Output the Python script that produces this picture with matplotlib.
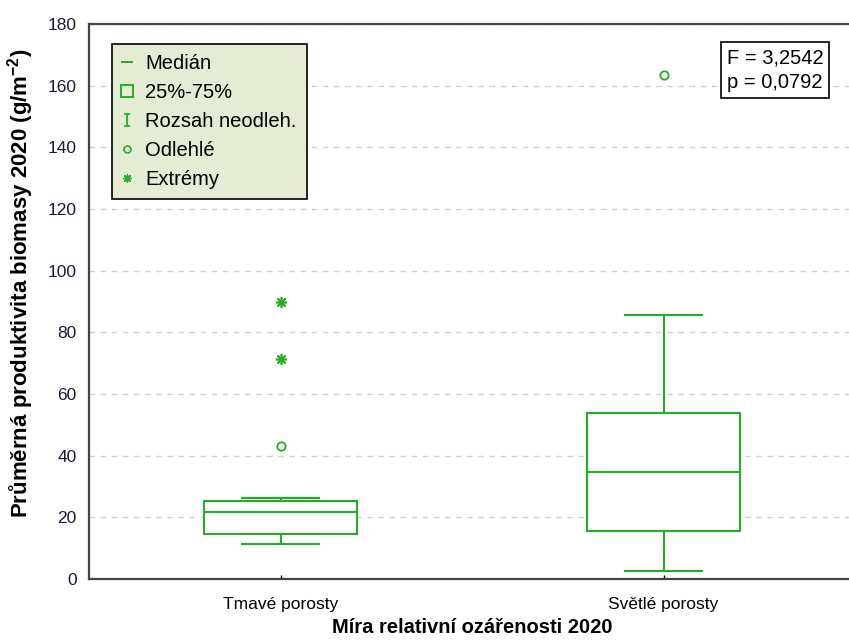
import matplotlib
matplotlib.use("Agg")
import matplotlib.pyplot as plt
from matplotlib.lines import Line2D
from matplotlib.path import Path

plt.rcParams['font.family'] = ['Liberation Sans', 'DejaVu Sans']
plt.rcParams['mathtext.fontset'] = 'custom'
plt.rcParams['mathtext.rm'] = 'Liberation Sans'
plt.rcParams['mathtext.bf'] = 'Liberation Sans:bold'

# data
categories = ["Tmavé porosty", "Světlé porosty"]
medians = [21.7, 34.7]
q1 = [14.6, 15.7]
q3 = [25.4, 53.8]
whis_lo = [11.4, 2.6]
whis_hi = [26.3, 85.6]
outliers = [[43.2], [163.6]]
extremes = [[71.3, 90.0], []]
f_value = "3,2542"
p_value = "0,0792"

green = "#22b022"
spine_c = "#444444"

fig = plt.figure(figsize=(8.49, 6.41), dpi=100)
ax = fig.add_axes([89 / 849, 62 / 641, 766 / 849, 555 / 641])

stats = []
for i, name in enumerate(categories):
    stats.append(dict(label=name, med=medians[i], q1=q1[i], q3=q3[i],
                      whislo=whis_lo[i], whishi=whis_hi[i], fliers=outliers[i]))

ax.bxp(stats, positions=[0, 1], widths=0.40, capwidths=0.20,
       patch_artist=True,
       boxprops=dict(facecolor="white", edgecolor=green, linewidth=1.5),
       medianprops=dict(color=green, linewidth=1.5),
       whiskerprops=dict(color=green, linewidth=1.5),
       capprops=dict(color=green, linewidth=1.5),
       flierprops=dict(marker="o", markersize=6, markerfacecolor="none",
                       markeredgecolor=green, markeredgewidth=1.3),
       zorder=3)

for i, ext in enumerate(extremes):
    if ext:
        ax.plot([i] * len(ext), ext, linestyle="none", marker=(8, 2, 0),
                markersize=8, color=green, markeredgewidth=1.2, zorder=4)

ax.set_xlim(-0.5, 1.5)
ax.set_ylim(0, 180)
ax.set_yticks(range(0, 181, 20))
ax.set_xticks([0, 1])
ax.set_xticklabels(categories)

ax.yaxis.grid(True, color="#d0d0d0", linestyle=(0, (4, 4)), linewidth=1)
ax.set_axisbelow(True)

for s in ["left", "bottom", "top", "right"]:
    ax.spines[s].set_color(spine_c)
    ax.spines[s].set_linewidth(1.6)

ax.tick_params(axis="y", direction="in", length=0, pad=9, labelsize=12.5,
               labelcolor="#1a1a3a")
ax.tick_params(axis="x", direction="in", length=3, width=1, pad=13,
               labelsize=12.5, colors="black")

ax.set_ylabel(r"Průměrná produktivita biomasy 2020 (g/m$^{\mathbf{-2}}$)",
              fontsize=16, fontweight="bold")
ax.yaxis.set_label_coords(-0.069, 0.533)
ax.set_xlabel("Míra relativní ozářenosti 2020", fontsize=14.5,
              fontweight="bold", labelpad=4)

# legend
ibeam = Path([(-0.5, 1), (0.5, 1), (0, 1), (0, -1), (-0.5, -1), (0.5, -1)],
             [Path.MOVETO, Path.LINETO, Path.MOVETO, Path.LINETO,
              Path.MOVETO, Path.LINETO])
handles = [
    Line2D([], [], linestyle="none", marker="_", markersize=9,
           markeredgewidth=1.4, color=green),
    Line2D([], [], linestyle="none", marker="s", markersize=9,
           markerfacecolor="none", markeredgecolor=green, markeredgewidth=1.4),
    Line2D([], [], linestyle="none", marker=ibeam, markersize=9,
           markerfacecolor="none", markeredgecolor=green, markeredgewidth=1.3),
    Line2D([], [], linestyle="none", marker="o", markersize=5,
           markerfacecolor="none", markeredgecolor=green, markeredgewidth=1.2),
    Line2D([], [], linestyle="none", marker=(8, 2, 0), markersize=6,
           color=green, markeredgewidth=1),
]
labels = ["Medián", "25%-75%", "Rozsah neodleh.", "Odlehlé", "Extrémy"]
leg = ax.legend(handles, labels, loc="upper left",
                bbox_to_anchor=(23 / 766, 1 - 20 / 555), fontsize=14.5,
                frameon=True, fancybox=False, edgecolor="black",
                facecolor="#e4ecd4", framealpha=1, handlelength=0.5,
                handletextpad=0.65, labelspacing=0.5, borderpad=0.5,
                borderaxespad=0)
leg.get_frame().set_linewidth(1.2)

ax.text(1 - 128 / 766, 1 - 24 / 555, f"F = {f_value}\np = {p_value}",
        transform=ax.transAxes, ha="left", va="top", fontsize=14.5,
        linespacing=1.4,
        bbox=dict(boxstyle="square,pad=0.28", facecolor="white",
                  edgecolor="black", linewidth=1.2), zorder=6)

fig.savefig("out.png", dpi=100)
